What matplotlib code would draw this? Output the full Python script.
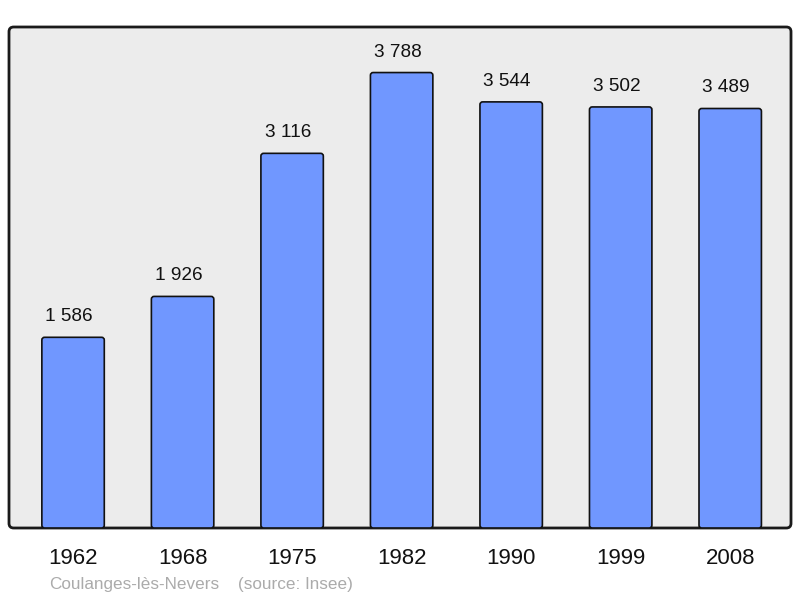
import matplotlib
matplotlib.use("Agg")
import matplotlib.pyplot as plt
from matplotlib.patches import FancyBboxPatch

years = ["1962", "1968", "1975", "1982", "1990", "1999", "2008"]
population = [1586, 1926, 3116, 3788, 3544, 3502, 3489]
value_labels = ["1 586", "1 926", "3 116", "3 788", "3 544", "3 502", "3 489"]
footer_name = "Coulanges-lès-Nevers"
footer_source = "(source: Insee)"

plt.rcParams['font.family'] = ['Liberation Sans', 'DejaVu Sans']

W, H = 800, 598
fig = plt.figure(figsize=(W / 100, H / 100), dpi=100)
ax_l, ax_r, ax_t, ax_b = 9, 791, 27, 528
ax = fig.add_axes([ax_l / W, 1 - ax_b / H, (ax_r - ax_l) / W, (ax_b - ax_t) / H])
ax.set_facecolor('none')
for s in ax.spines.values():
    s.set_visible(False)
ax.set_xticks([])
ax.set_yticks([])

ymax = max(population) * 1.1
ax.set_xlim(-0.585, 6.555)
ax.set_ylim(0, ymax)

# frame with rounded corners
frame_aspect = (ax_b - ax_t) / (ax_r - ax_l)
frame = FancyBboxPatch((0, 0), 1, 1, transform=ax.transAxes,
                       boxstyle="round,pad=0,rounding_size=0.006",
                       mutation_aspect=1 / frame_aspect,
                       facecolor='#ececec', edgecolor='#1a1a1a', linewidth=2,
                       zorder=0, clip_on=False)
ax.add_patch(frame)

x = list(range(len(years)))
bars = ax.bar(x, population, width=0.57, color='#7097ff', edgecolor='#111111', linewidth=1.2, zorder=2)

# replace bars with slightly rounded versions
px_per_x = (ax_r - ax_l) / (6.555 + 0.585)
px_per_y = (ax_b - ax_t) / ymax
aspect = px_per_x / px_per_y
for rect in bars:
    bx, by = rect.get_x(), rect.get_y()
    bw, bh = rect.get_width(), rect.get_height()
    rect.set_visible(False)
    p = FancyBboxPatch((bx, by), bw, bh, boxstyle="round,pad=0,rounding_size=0.025",
                       mutation_aspect=aspect, facecolor='#7097ff', edgecolor='#111111',
                       linewidth=1.2, zorder=2)
    ax.add_patch(p)

for i, (v, lab) in enumerate(zip(population, value_labels)):
    ax.annotate(lab, xy=(i, v), xytext=(-4, 16), textcoords='offset pixels',
                ha='center', va='baseline', fontsize=13.7, color='#111111')
    ax.annotate(years[i], xy=(i, 0), xytext=(0, -36), textcoords='offset pixels',
                ha='center', va='baseline', fontsize=16, color='#111111',
                annotation_clip=False)

fig.text(49 / W, 1 - 589 / H, footer_name, fontsize=12.3, color='#ababab', ha='left', va='baseline')
fig.text(238 / W, 1 - 589 / H, footer_source, fontsize=12.3, color='#ababab', ha='left', va='baseline')

fig.savefig("out.png", dpi=100)
